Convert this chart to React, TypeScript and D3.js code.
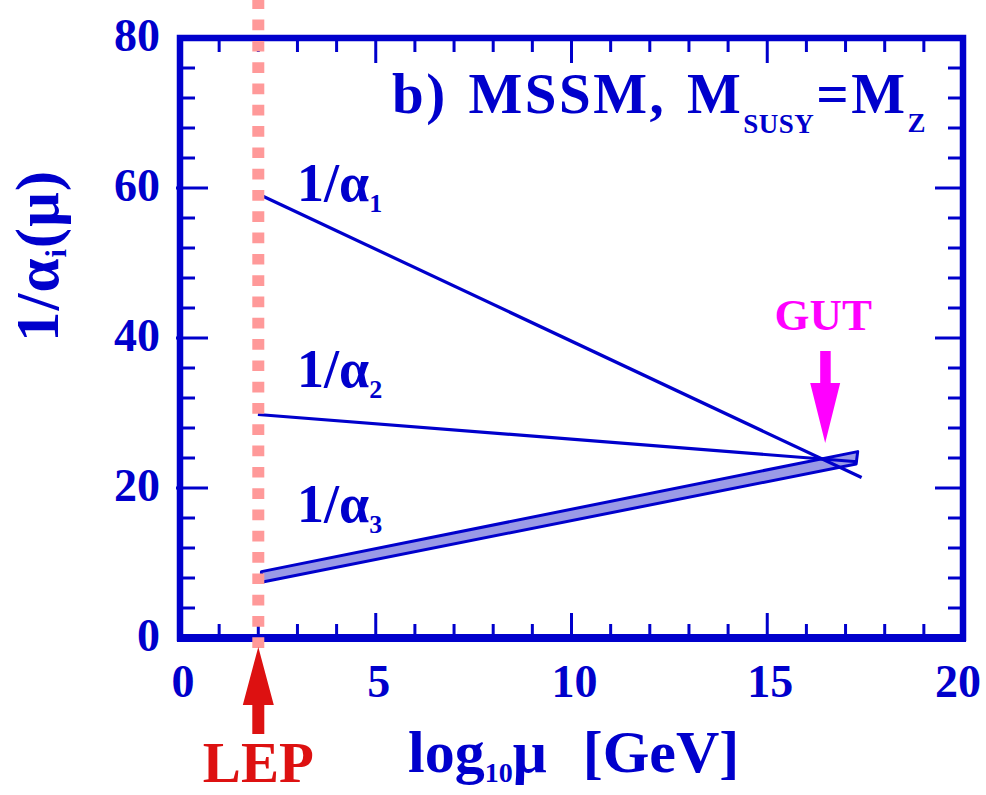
import React, { useEffect, useRef } from "react";
import * as d3 from "d3";

// running couplings (x = log10 mu, y = 1/alpha)
const alpha1X = [2.12, 17.41];
const alpha1Y = [58.9, 21.4];
const alpha2X = [1.99, 17.3];
const alpha2Y = [29.8, 23.5];
const alpha3UpperX = [2.08, 17.31];
const alpha3UpperY = [8.85, 24.85];
const alpha3LowerX = [2.08, 17.27];
const alpha3LowerY = [7.43, 23.2];

const xTickLabels = ["0", "5", "10", "15", "20"];
const yTickLabels = ["0", "20", "40", "60", "80"];
const xMajor = [0, 5, 10, 15, 20];
const yMajor = [0, 20, 40, 60, 80];

const lepX = 2.0;
const gutX = 16.48;

const BLUE = "#0000cc";
const FONT = "'Liberation Serif', 'Times New Roman', serif";

const App = () => {
  const ref = useRef<SVGSVGElement>(null);

  useEffect(() => {
    const svg = d3.select(ref.current);
    svg.selectAll("*").remove();

    const left = 180,
      right = 963,
      top = 38,
      bottom = 638;

    const x = d3.scaleLinear().domain([0, 20]).range([left, right]);
    const y = d3.scaleLinear().domain([0, 80]).range([bottom, top]);

    // frame
    svg
      .append("rect")
      .attr("x", left)
      .attr("y", top)
      .attr("width", right - left)
      .attr("height", bottom - top)
      .attr("fill", "none")
      .attr("stroke", BLUE)
      .attr("stroke-width", 6.5);
    svg
      .append("line")
      .attr("x1", left - 3)
      .attr("x2", right + 3)
      .attr("y1", bottom)
      .attr("y2", bottom)
      .attr("stroke", BLUE)
      .attr("stroke-width", 8);

    const ticks = svg.append("g").attr("stroke", BLUE).attr("stroke-width", 3);

    d3.range(0, 21, 1).forEach((v) => {
      const len = v % 5 === 0 ? 25 : 14;
      if (v === 0 || v === 20) return;
      ticks.append("line").attr("x1", x(v)).attr("x2", x(v)).attr("y1", bottom).attr("y2", bottom - len);
      ticks.append("line").attr("x1", x(v)).attr("x2", x(v)).attr("y1", top).attr("y2", top + len);
    });
    d3.range(0, 81, 4).forEach((v) => {
      if (v === 0 || v === 80) return;
      const len = v % 20 === 0 ? 28 : 15;
      ticks.append("line").attr("x1", left - (v % 20 === 0 ? 4 : 0)).attr("x2", left + len).attr("y1", y(v)).attr("y2", y(v));
      ticks.append("line").attr("x1", right).attr("x2", right - len).attr("y1", y(v)).attr("y2", y(v));
    });

    // tick labels
    svg
      .append("g")
      .selectAll("text")
      .data(xMajor)
      .join("text")
      .attr("x", (d) => x(d) + (d === 20 ? -5 : 3))
      .attr("y", 697)
      .attr("text-anchor", "middle")
      .attr("font-family", FONT)
      .attr("font-weight", "bold")
      .attr("font-size", 46)
      .attr("fill", BLUE)
      .text((d, i) => xTickLabels[i]);

    svg
      .append("g")
      .selectAll("text")
      .data(yMajor)
      .join("text")
      .attr("x", left - 20)
      .attr("y", (d) => y(d) + 13)
      .attr("text-anchor", "end")
      .attr("font-family", FONT)
      .attr("font-weight", "bold")
      .attr("font-size", 46)
      .attr("fill", BLUE)
      .text((d, i) => yTickLabels[i]);

    // alpha_3 band
    const upper = alpha3UpperX.map((v, i) => [x(v), y(alpha3UpperY[i])] as [number, number]);
    const lower = alpha3LowerX.map((v, i) => [x(v), y(alpha3LowerY[i])] as [number, number]);
    svg
      .append("path")
      .attr("d", d3.line()([...upper, ...lower.reverse()]) + "Z")
      .attr("fill", "#9a9ae6")
      .attr("stroke", BLUE)
      .attr("stroke-width", 3)
      .attr("stroke-linejoin", "round");

    svg
      .append("path")
      .attr("d", d3.line<number>().x((d) => x(d)).y((d, i) => y(alpha1Y[i]))(alpha1X))
      .attr("fill", "none")
      .attr("stroke", BLUE)
      .attr("stroke-width", 3.2);
    svg
      .append("path")
      .attr("d", d3.line<number>().x((d) => x(d)).y((d, i) => y(alpha2Y[i]))(alpha2X))
      .attr("fill", "none")
      .attr("stroke", BLUE)
      .attr("stroke-width", 3.2);

    // curve labels 1/alpha_i
    const labels = [
      { sub: "1", yb: 201 },
      { sub: "2", yb: 387 },
      { sub: "3", yb: 522 },
    ];
    labels.forEach((l) => {
      const t = svg
        .append("text")
        .attr("x", 297)
        .attr("y", l.yb)
        .attr("font-family", FONT)
        .attr("font-weight", "bold")
        .attr("font-size", 54)
        .attr("fill", BLUE);
      t.append("tspan").text("1/α");
      t.append("tspan").attr("font-size", 26).attr("dy", 11).text(l.sub);
    });

    // title
    const title = svg
      .append("text")
      .attr("x", 392)
      .attr("y", 113)
      .attr("font-family", FONT)
      .attr("font-weight", "bold")
      .attr("font-size", 57)
      .attr("letter-spacing", 2.5)
      .attr("word-spacing", 4)
      .attr("fill", BLUE);
    title.append("tspan").text("b) MSSM, M");
    title.append("tspan").attr("font-size", 27).attr("dy", 20).attr("letter-spacing", 0.5).text("SUSY");
    title.append("tspan").attr("dy", -20).attr("dx", 2).text("=M");
    title.append("tspan").attr("font-size", 27).attr("dy", 19).text("Z");

    // axis titles
    const xt = svg
      .append("text")
      .attr("x", 408)
      .attr("y", 772)
      .attr("font-family", FONT)
      .attr("font-weight", "bold")
      .attr("font-size", 60)
      .attr("fill", BLUE);
    xt.append("tspan").text("log");
    xt.append("tspan").attr("font-size", 28).attr("dy", 10).text("10");
    xt.append("tspan").attr("dy", -10).text("μ");
    xt.append("tspan").attr("dx", 36).text("[GeV]");

    const yt = svg
      .append("text")
      .attr("transform", "translate(58,256) rotate(-90)")
      .attr("text-anchor", "middle")
      .attr("font-family", FONT)
      .attr("font-weight", "bold")
      .attr("font-size", 61)
      .attr("letter-spacing", 1)
      .attr("fill", BLUE);
    yt.append("tspan").text("1/α");
    yt.append("tspan").attr("font-size", 30).attr("dy", 8).text("i");
    yt.append("tspan").attr("dy", -8).text("(μ)");

    // LEP dashed line + arrow
    svg
      .append("line")
      .attr("x1", x(lepX))
      .attr("x2", x(lepX))
      .attr("y1", -1.7)
      .attr("y2", 648)
      .attr("stroke", "#ff9999")
      .attr("stroke-width", 12)
      .attr("stroke-dasharray", "10.7 10.6");

    const lx = x(lepX);
    svg
      .append("path")
      .attr(
        "d",
        `M${lx},647 L${lx + 15.5},705 L${lx + 6},705 L${lx + 6},734 L${lx - 6},734 L${lx - 6},705 L${lx - 15.5},705 Z`
      )
      .attr("fill", "#dd1111");
    svg
      .append("text")
      .attr("x", lx)
      .attr("y", 782)
      .attr("text-anchor", "middle")
      .attr("font-family", FONT)
      .attr("font-weight", "bold")
      .attr("font-size", 57)
      .attr("fill", "#dd1111")
      .text("LEP");

    // GUT arrow
    const gx = x(gutX);
    svg
      .append("path")
      .attr(
        "d",
        `M${gx},443 L${gx + 15},383 L${gx + 5.5},383 L${gx + 5.5},351 L${gx - 5},351 L${gx - 5},383 L${gx - 15},383 Z`
      )
      .attr("fill", "#ff00ff");
    svg
      .append("text")
      .attr("x", gx - 2)
      .attr("y", 330)
      .attr("text-anchor", "middle")
      .attr("font-family", FONT)
      .attr("font-weight", "bold")
      .attr("font-size", 45)
      .attr("fill", "#ff00ff")
      .text("GUT");
  }, []);

  return (
    <svg
      ref={ref}
      width={986}
      height={795}
      style={{ position: "absolute", left: 0, top: 0, background: "#fff" }}
    />
  );
};

export default App;
